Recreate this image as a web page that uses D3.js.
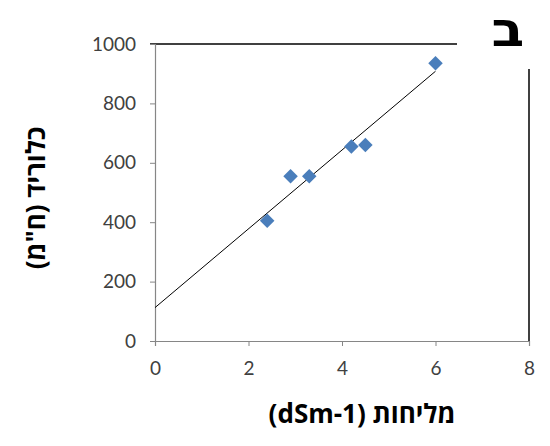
<!DOCTYPE html>
<html>
<head>
<meta charset="utf-8">
<script src="https://cdn.jsdelivr.net/npm/d3@7"></script>
<style>
  body { margin: 0; background: #fff; }
  text { font-family: "Open Sans", "DejaVu Sans", sans-serif; }
</style>
</head>
<body>
<div id="chart"></div>
<script>
// salinity (dSm-1) vs chloride
const salinity = [2.4, 2.9, 3.3, 4.2, 4.5, 6.0];
const chloride = [405, 555, 555, 655, 660, 935];
const xTicks = [0, 2, 4, 6, 8];
const yTicks = [0, 200, 400, 600, 800, 1000];

const width = 550, height = 446;
const margin = { left: 155, right: 21, top: 44, bottom: 105 };

const svg = d3.select('#chart').append('svg').attr('width', width).attr('height', height);

const x = d3.scaleLinear().domain([0, 8]).range([margin.left, width - margin.right]);
const y = d3.scaleLinear().domain([0, 1000]).range([height - margin.bottom, margin.top]);

// frame lines (black)
svg.append('line')
  .attr('x1', x(0) - 5).attr('x2', 457)
  .attr('y1', y(1000)).attr('y2', y(1000))
  .attr('stroke', '#000').attr('stroke-width', 1.5);
svg.append('line')
  .attr('x1', x(8)).attr('x2', x(8))
  .attr('y1', 69).attr('y2', y(0))
  .attr('stroke', '#000').attr('stroke-width', 1.5);

// axes
const xAxis = svg.append('g')
  .attr('transform', 'translate(0,' + y(0) + ')')
  .call(d3.axisBottom(x).tickValues(xTicks).tickFormat(d3.format('d')).tickSize(5).tickPadding(16));
const yAxis = svg.append('g')
  .attr('transform', 'translate(' + x(0) + ',0)')
  .call(d3.axisLeft(y).tickValues(yTicks).tickFormat(d3.format('d')).tickSize(5).tickPadding(14));

[xAxis, yAxis].forEach(function (a) {
  a.select('.domain').attr('stroke', '#868686').attr('stroke-width', 1.2);
  a.selectAll('.tick line').attr('stroke', '#868686');
  a.selectAll('.tick text').attr('fill', '#404040')
    .style('font-family', 'Lato, "Open Sans", sans-serif').style('font-size', '19px');
});

// linear trend line
const mx = d3.mean(salinity), my = d3.mean(chloride);
const slope = d3.sum(salinity, function (v, i) { return (v - mx) * (chloride[i] - my); }) /
  d3.sum(salinity, function (v) { return (v - mx) * (v - mx); });
const intercept = my - slope * mx;
const xEnd = d3.max(salinity);
svg.append('line')
  .attr('x1', x(0)).attr('y1', y(intercept))
  .attr('x2', x(xEnd)).attr('y2', y(intercept + slope * xEnd))
  .attr('stroke', '#000').attr('stroke-width', 1);

// markers
const diamond = d3.symbol().type(d3.symbolSquare).size(105);
svg.selectAll('.pt')
  .data(salinity)
  .enter().append('path')
  .attr('class', 'pt')
  .attr('d', diamond)
  .attr('transform', function (d, i) { return 'translate(' + x(d) + ',' + y(chloride[i]) + ') rotate(45)'; })
  .attr('fill', '#4a7ebb');

// titles
svg.append('text')
  .attr('x', 362).attr('y', 423)
  .attr('text-anchor', 'middle')
  .style('font-size', '26px').style('font-weight', 'bold')
  .attr('direction', 'rtl')
  .text('מליחות (dSm-1)');

svg.append('text')
  .attr('transform', 'translate(45,198) rotate(-90)')
  .attr('text-anchor', 'middle')
  .style('font-size', '26px').style('font-weight', 'bold')
  .attr('direction', 'rtl')
  .text('כלוריד (ח"מ)');

svg.append('text')
  .attr('transform', 'translate(508,46) scale(1.12,1)')
  .attr('text-anchor', 'middle')
  .style('font-family', '"DejaVu Sans", sans-serif')
  .style('font-size', '48px').style('font-weight', 'bold')
  .text('ב');
</script>
</body>
</html>
